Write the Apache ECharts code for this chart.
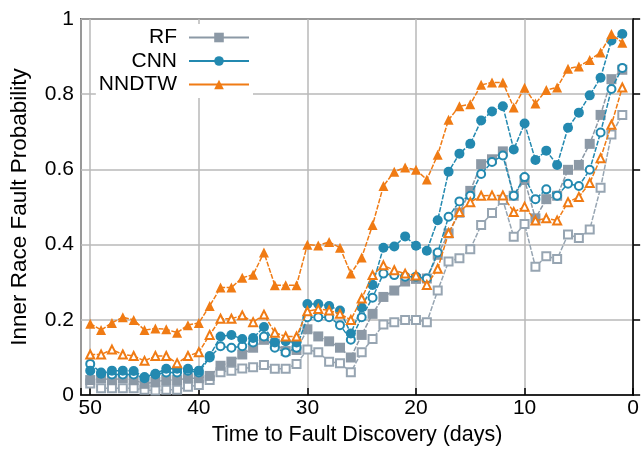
<!DOCTYPE html>
<html>
<head>
<meta charset="utf-8">
<script src="https://cdn.jsdelivr.net/npm/echarts@6/dist/echarts.min.js"></script>
<style>html,body{margin:0;padding:0;background:#fff;}#c{width:642px;height:451px;}</style>
</head>
<body>
<div id="c"></div>
<script>
const days = [50,49,48,47,46,45,44,43,42,41,40,39,38,37,36,35,34,33,32,31,30,29,28,27,26,25,24,23,22,21,20,19,18,17,16,15,14,13,12,11,10,9,8,7,6,5,4,3,2,1];
const xTicks = [0,10,20,30,40,50];
const yTicks = [0,0.2,0.4,0.6,0.8,1];
const rfFilled = [0.04,0.045,0.04,0.045,0.04,0.03,0.035,0.04,0.04,0.045, 0.045,0.051,0.078,0.089,0.108,0.126,0.147,0.137,0.117,0.12, 0.175,0.156,0.143,0.126,0.10,0.16,0.216,0.261,0.278,0.302, 0.309,0.31,0.373,0.43,0.485,0.543,0.614,0.627,0.648,0.53, 0.572,0.47,0.521,0.53,0.599,0.612,0.668,0.745,0.84,0.865];
const rfHollow = [0.031,0.018,0.018,0.018,0.018,0.014,0.012,0.014,0.014,0.022, 0.027,0.04,0.061,0.065,0.071,0.074,0.08,0.07,0.07,0.083, 0.121,0.114,0.089,0.085,0.061,0.114,0.149,0.188,0.194,0.2, 0.2,0.194,0.278,0.355,0.364,0.388,0.452,0.484,0.519,0.421, 0.455,0.341,0.369,0.362,0.427,0.418,0.44,0.551,0.693,0.745];
const cnnFilled = [0.065,0.057,0.065,0.065,0.064,0.048,0.057,0.07,0.07,0.07, 0.065,0.104,0.156,0.16,0.149,0.152,0.181,0.14,0.143,0.14, 0.242,0.242,0.237,0.225,0.164,0.233,0.293,0.392,0.395,0.422, 0.397,0.384,0.465,0.594,0.642,0.668,0.73,0.754,0.768,0.653, 0.722,0.625,0.65,0.612,0.711,0.751,0.797,0.844,0.943,0.96];
const cnnHollow = [0.083,0.06,0.055,0.055,0.055,0.045,0.055,0.06,0.06,0.065, 0.06,0.1,0.13,0.126,0.13,0.14,0.156,0.126,0.113,0.126, 0.207,0.207,0.207,0.186,0.147,0.207,0.259,0.323,0.319,0.315, 0.315,0.31,0.379,0.474,0.515,0.53,0.588,0.62,0.637,0.53, 0.58,0.521,0.547,0.53,0.562,0.556,0.599,0.698,0.814,0.87];
const nndtwFilled = [0.19,0.173,0.192,0.207,0.20,0.173,0.177,0.175,0.166,0.186, 0.192,0.237,0.286,0.286,0.312,0.32,0.379,0.292,0.292,0.292, 0.40,0.398,0.407,0.392,0.323,0.366,0.452,0.556,0.594,0.605, 0.599,0.573,0.639,0.732,0.768,0.773,0.825,0.831,0.831,0.765, 0.817,0.775,0.811,0.818,0.868,0.874,0.891,0.911,0.96,0.937];
const nndtwHollow = [0.108,0.108,0.121,0.108,0.104,0.091,0.104,0.104,0.085,0.104, 0.114,0.16,0.203,0.203,0.212,0.194,0.214,0.166,0.156,0.156, 0.223,0.229,0.225,0.216,0.20,0.257,0.319,0.345,0.332,0.323, 0.318,0.293,0.336,0.431,0.487,0.513,0.53,0.531,0.531,0.487, 0.501,0.464,0.47,0.464,0.513,0.527,0.564,0.63,0.719,0.818];

const GRAY = '#8c99a6', BLUE = '#2389b0', ORANGE = '#f07b14';
const FONT = 'Liberation Sans';

function pts(vals){ return days.map((d,i)=>[d, vals[i]]); }
function mk(name, vals, color, symbol, size, z){
  return {
    name: name, type: 'line', data: pts(vals), symbol: symbol, symbolSize: size, z: z,
    lineStyle: {color: color, width: 1.5, type: [5,1.5]},
    itemStyle: {color: color, borderColor: color, borderWidth: symbol.indexOf('empty')===0 ? 1.4 : 0},
    emphasis: {disabled: true}, animation: false
  };
}

const chart = echarts.init(document.getElementById('c'), null, {renderer: 'canvas'});
chart.setOption({
  animation: false,
  backgroundColor: '#fff',
  grid: {left: 77, right: 6, top: 19, bottom: 44, show: true, borderColor: '#000', borderWidth: 1.5, backgroundColor: 'transparent'},
  legend: {
    data: ['RF','CNN','NNDTW'], orient: 'vertical', align: 'right',
    right: 389, top: 24, itemWidth: 60, itemHeight: 12, itemGap: 2.5,
    backgroundColor: '#fff', padding: [3,3,3,3],
    textStyle: {fontFamily: FONT, fontSize: 21, color: '#000', lineHeight: 20, padding: [0,7,0,0]},
    lineStyle: {type: 'solid'}
  },
  xAxis: {
    type: 'value', inverse: true, min: 0, max: 50.85, interval: 10,
    axisLine: {lineStyle: {color: '#000', width: 1.5}},
    axisTick: {inside: true, length: 7, lineStyle: {color: '#000', width: 1.5}},
    splitLine: {show: true, lineStyle: {color: '#b8b8b8', width: 1.5}},
    axisLabel: {fontFamily: FONT, fontSize: 21, color: '#000', margin: 3,
      formatter: v => xTicks.indexOf(v) >= 0 ? String(v) : ''},
    name: 'Time to Fault Discovery (days)', nameLocation: 'middle', nameGap: 22,
    nameTextStyle: {fontFamily: FONT, fontSize: 21.5, color: '#000'}
  },
  yAxis: {
    type: 'value', min: 0, max: 1, interval: 0.2,
    axisLine: {lineStyle: {color: '#000', width: 1.5}},
    axisTick: {inside: true, length: 7, lineStyle: {color: '#000', width: 1.5}},
    splitLine: {show: true, lineStyle: {color: '#b8b8b8', width: 1.5}},
    axisLabel: {fontFamily: FONT, fontSize: 21, color: '#000', margin: 7,
      formatter: v => { const t = yTicks.find(y => Math.abs(y - v) < 1e-9); return t === undefined ? '' : String(t); }},
    name: 'Inner Race Fault Probability', nameLocation: 'middle', nameGap: 50,
    nameTextStyle: {fontFamily: FONT, fontSize: 22.5, color: '#000'}
  },
  series: [
    mk('RF ', rfHollow, '#97a5b2', 'emptyRect', 8, 2),
    mk('RF', rfFilled, GRAY, 'rect', 10, 3),
    mk('CNN ', cnnHollow, BLUE, 'emptyCircle', 8, 4),
    mk('CNN', cnnFilled, BLUE, 'circle', 10, 5),
    mk('NNDTW ', nndtwHollow, ORANGE, 'emptyTriangle', 8, 6),
    mk('NNDTW', nndtwFilled, ORANGE, 'triangle', 10, 7)
  ]
});
</script>
</body>
</html>
